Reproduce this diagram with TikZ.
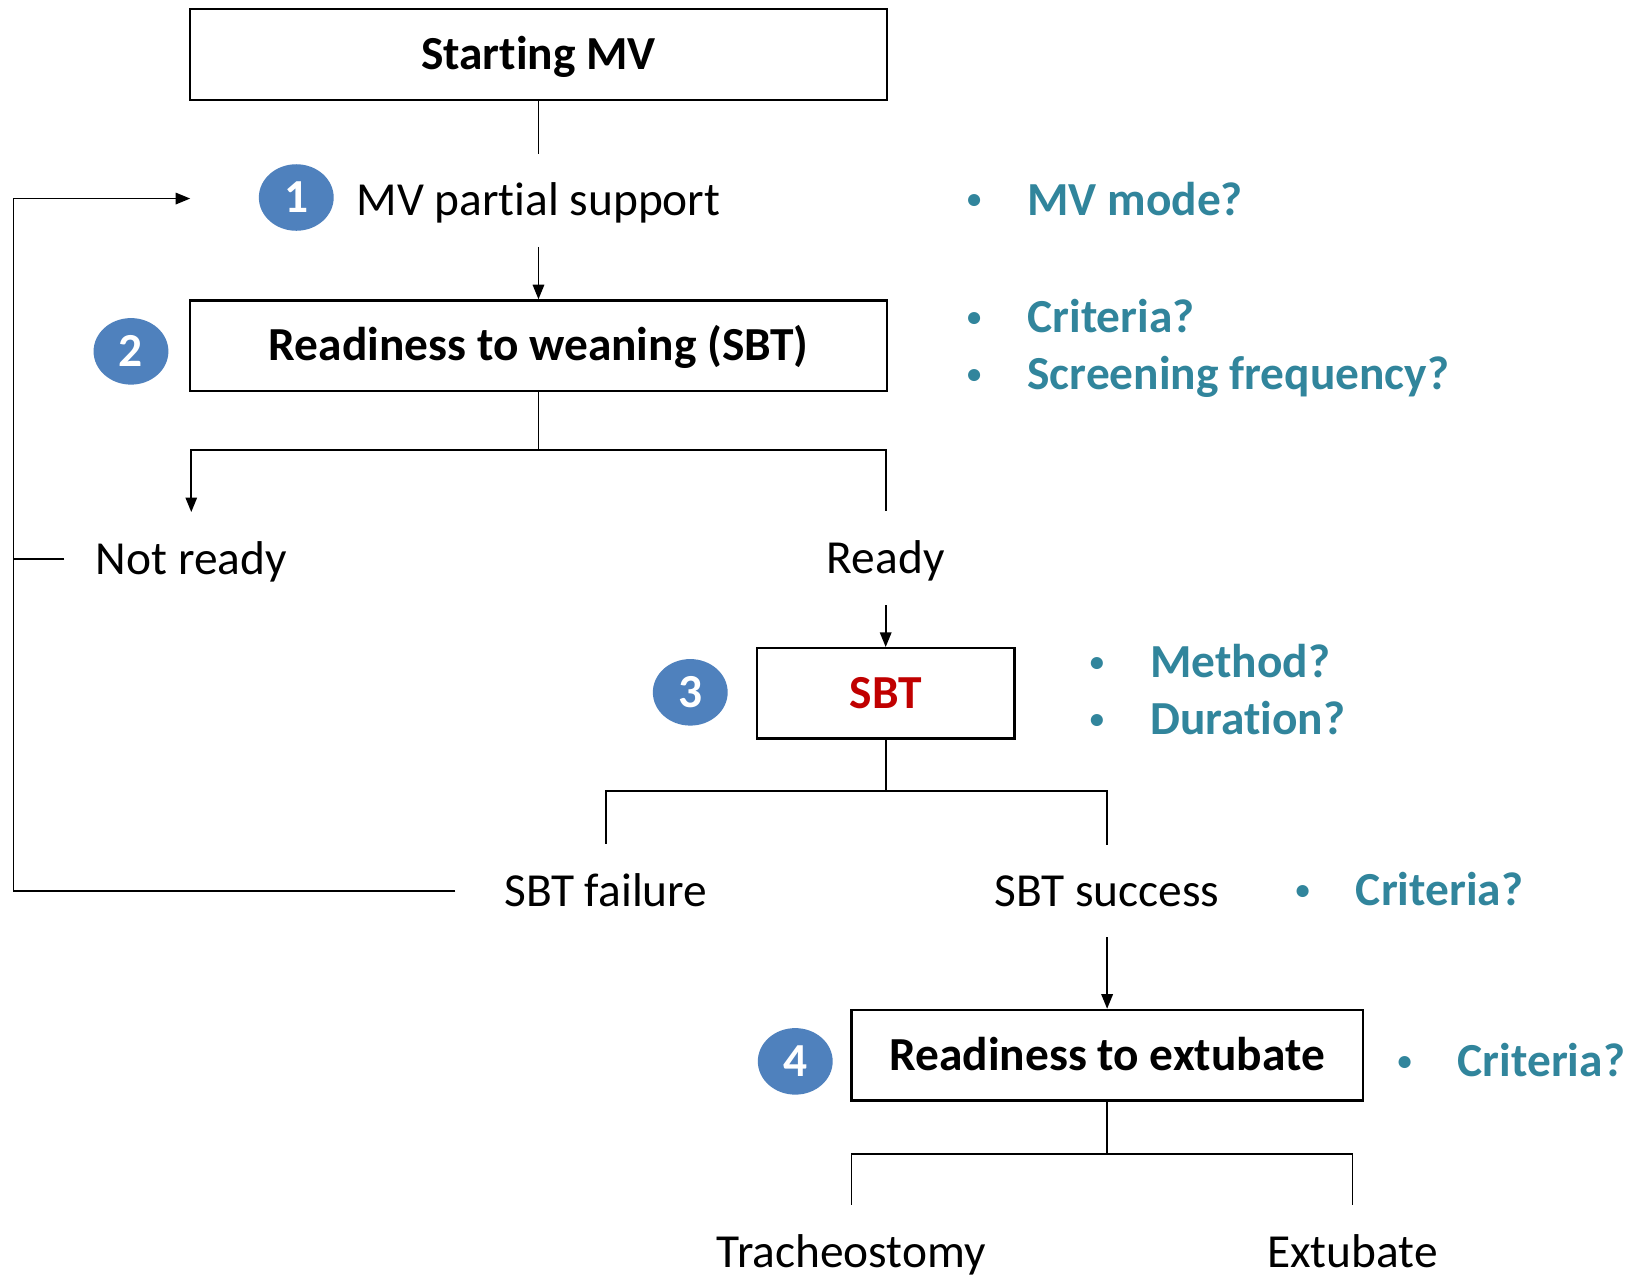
\documentclass[tikz,border=0pt]{standalone}
\usepackage{fontspec}
\setmainfont[Ligatures={NoCommon,NoContextual}, Contextuals=NoAlternate]{Carlito}
\usetikzlibrary{arrows.meta,shapes.geometric}
\definecolor{qteal}{HTML}{31859C}
\definecolor{numblue}{HTML}{4F81BD}
\definecolor{sbtred}{HTML}{C00000}
\newcommand\mainsize{\fontsize{22.8}{27}\selectfont}
\newcommand\bul[1]{\makebox[29pt][l]{\raisebox{3pt}{\scalebox{0.6}{•}}}#1}
% keeps t and i as separate glyphs
\newcommand\nolig{\kern0pt{}}
\begin{document}
\begin{tikzpicture}[x=0.5pt,y=-0.5pt,
  box/.style={draw, line width=1.1pt, inner sep=0pt, minimum height=43.5pt,
    text height=14.7pt, text depth=0pt, font=\bfseries\mainsize},
  num/.style={ellipse, fill=numblue, inner sep=0pt, minimum width=36pt,
    minimum height=32pt, text=white, text height=14.7pt, text depth=0pt,
    font=\bfseries\mainsize},
  lbl/.style={inner sep=0pt, minimum height=45pt, text height=14.7pt,
    text depth=0pt, font=\mainsize},
  note/.style={anchor=base west, inner sep=0pt, text=qteal, font=\bfseries\mainsize},
  conn/.style={line width=0.85pt},
  arr/.style={-{Triangle[length=7pt,width=5.5pt]}}]
\useasboundingbox[fill=white] (0,0) rectangle (1568,1229);

% boxes
\node[box, minimum width=335pt] (start) at (518,52.5) {Start\nolig ing MV};
\node[box, minimum width=335pt] (wean) at (518,332.5) {Readiness to weaning (SBT)};
\node[box, minimum width=124pt, text=sbtred] (sbt) at (852,667) {SBT};
\node[box, minimum width=246pt] (ext) at (1065,1015) {Readiness to extubate};

% step numbers
\node[num] (n1) at (285,190) {1};
\node[num] (n2) at (126,338) {2};
\node[num] (n3) at (664,666) {3};
\node[num] (n4) at (765,1021) {4};

% plain labels
\node[lbl, minimum height=44pt] (mvps) at (518,193) {MV part\nolig ial support};
\node[lbl] (notready) at (184,538) {Not ready};
\node[lbl] (ready) at (852,537) {Ready};
\node[lbl] (fail) at (583,857) {SBT failure};
\node[lbl, minimum height=44pt] (succ) at (1065,857) {SBT success};
\node[lbl] (trach) at (819,1205) {Tracheostomy};
\node[lbl] (extb) at (1301,1205) {Extubate};

% open questions
\node[note] (q1) at (930,207) {\bul{MV mode?}};
\node[note] (q2) at (930,320) {\bul{Criteria?}};
\node[note] (q3) at (930,375) {\bul{Screening frequency?}};
\node[note] (q4) at (1048,652) {\bul{Method?}};
\node[note] (q5) at (1048,707) {\bul{Duration?}};
\node[note] (q6) at (1246,871) {\bul{Criteria?}};
\node[note] (q7) at (1344,1036) {\bul{Criteria?}};

% branch points and loop rail
\coordinate (split1) at (518,433);
\coordinate (split2) at (852,761);
\coordinate (split3) at (1065,1110);
\coordinate (rail) at (13,500);
\coordinate (loopin) at (183,191);

% connectors
\draw[conn] (start) -- (mvps);
\draw[conn,arr] (mvps) -- (wean);
\draw[conn,arr] (wean.south) -- (split1) -| (notready.north);
\draw[conn] (split1) -| (ready.north);
\draw[conn,arr] (ready) -- (sbt);
\draw[conn] (sbt.south) -- (split2) -| (fail.north);
\draw[conn] (split2) -| (succ.north);
\draw[conn,arr] (succ) -- (ext);
\draw[conn] (ext.south) -- (split3) -| (trach.north);
\draw[conn] (split3) -| (extb.north);

% return path back to partial support
\draw[conn,arr] ([xshift=-23.5pt]fail.west) -- (fail.west -| rail)
  -- (loopin -| rail) -- (loopin);
\draw[conn] ([xshift=-15pt]notready.west) -- (notready.west -| rail);
\end{tikzpicture}
\end{document}
